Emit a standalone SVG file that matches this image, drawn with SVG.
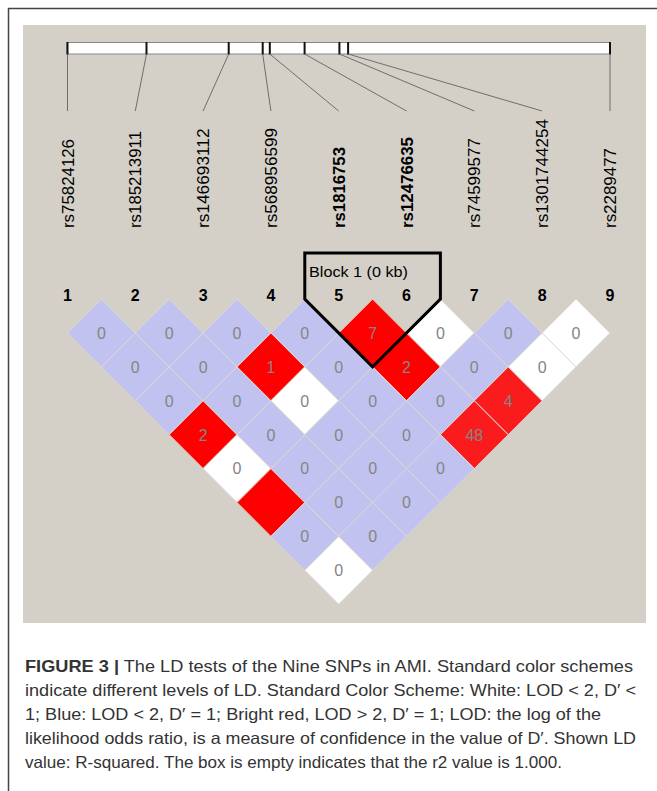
<svg xmlns="http://www.w3.org/2000/svg" width="657" height="791" viewBox="0 0 657 791">
<style>
.lbl{font-family:"Liberation Sans",Arial,sans-serif;font-size:16.5px;fill:#000}
.lblb{font-family:"Liberation Sans",Arial,sans-serif;font-size:16.5px;font-weight:bold;fill:#000}
.num{font-family:"Liberation Sans",Arial,sans-serif;font-size:16px;font-weight:bold;fill:#000;text-anchor:middle}
.val{font-family:"Liberation Sans",Arial,sans-serif;font-size:16px;fill:#858585;text-anchor:middle}
.blue{fill:#c2c2f0;stroke:#dcd9d2;stroke-width:1}
.red{fill:#ff0000;stroke:#dcd9d2;stroke-width:1}
.red2{fill:#fa1c1c;stroke:#dcd9d2;stroke-width:1}
.white{fill:#ffffff;stroke:#dcd9d2;stroke-width:1}
.lead{stroke:#6e6e6e;stroke-width:1;fill:none}
.tick{stroke:#111;stroke-width:2}
.cap{font-family:"Liberation Sans",Arial,sans-serif;font-size:16.5px;fill:#333}
</style>
<defs>
<path id="dm" d="M0,-33.9 L33.9,0 L0,33.9 L-33.9,0 Z"/>
</defs>
<rect x="0" y="0" width="657" height="791" fill="#ffffff"/>
<path d="M8.5,800 V8.5 H700" fill="none" stroke="#444" stroke-width="1.5"/>
<rect x="23" y="25" width="623" height="598" fill="#d4d0c8"/>

<g id="physical-map">
<rect x="67" y="42.5" width="543" height="11.5" fill="#ffffff" stroke="#888" stroke-width="1"/>
<line class="tick" x1="67.5" y1="42" x2="67.5" y2="54.5"/>
<line class="tick" x1="146.5" y1="42" x2="146.5" y2="54.5"/>
<line class="tick" x1="228.7" y1="42" x2="228.7" y2="54.5"/>
<line class="tick" x1="262.7" y1="42" x2="262.7" y2="54.5"/>
<line class="tick" x1="269.8" y1="42" x2="269.8" y2="54.5"/>
<line class="tick" x1="304.6" y1="42" x2="304.6" y2="54.5"/>
<line class="tick" x1="339.4" y1="42" x2="339.4" y2="54.5"/>
<line class="tick" x1="348.1" y1="42" x2="348.1" y2="54.5"/>
<line class="tick" x1="610" y1="42" x2="610" y2="54.5"/>
</g>

<g id="connectors">
<line class="lead" x1="67.5" y1="54" x2="67.5" y2="111"/>
<line class="lead" x1="146.5" y1="54" x2="135.3" y2="111"/>
<line class="lead" x1="228.7" y1="54" x2="203.1" y2="111"/>
<line class="lead" x1="262.7" y1="54" x2="270.9" y2="111"/>
<line class="lead" x1="269.8" y1="54" x2="338.7" y2="111"/>
<line class="lead" x1="304.6" y1="54" x2="406.5" y2="111"/>
<line class="lead" x1="339.4" y1="54" x2="474.3" y2="111"/>
<line class="lead" x1="348.1" y1="54" x2="542.1" y2="111"/>
<line class="lead" x1="610" y1="54" x2="610" y2="111"/>
</g>

<g id="snp-labels">
<text class="lbl" transform="translate(73.5,228) rotate(-90)" textLength="89" lengthAdjust="spacingAndGlyphs">rs75824126</text>
<text class="lbl" transform="translate(141.3,228) rotate(-90)" textLength="97" lengthAdjust="spacingAndGlyphs">rs185213911</text>
<text class="lbl" transform="translate(209.1,228) rotate(-90)" textLength="99.5" lengthAdjust="spacingAndGlyphs">rs146693112</text>
<text class="lbl" transform="translate(276.9,228) rotate(-90)" textLength="100" lengthAdjust="spacingAndGlyphs">rs568956599</text>
<text class="lblb" transform="translate(344.7,228) rotate(-90)" textLength="81" lengthAdjust="spacingAndGlyphs">rs1816753</text>
<text class="lblb" transform="translate(412.5,228) rotate(-90)" textLength="91" lengthAdjust="spacingAndGlyphs">rs12476635</text>
<text class="lbl" transform="translate(480.3,228) rotate(-90)" textLength="90" lengthAdjust="spacingAndGlyphs">rs74599577</text>
<text class="lbl" transform="translate(548.1,228) rotate(-90)" textLength="109" lengthAdjust="spacingAndGlyphs">rs1301744254</text>
<text class="lbl" transform="translate(615.9,228) rotate(-90)" textLength="80" lengthAdjust="spacingAndGlyphs">rs2289477</text>
</g>

<g id="snp-numbers">
<text class="num" x="67.5" y="300.5">1</text>
<text class="num" x="135.3" y="300.5">2</text>
<text class="num" x="203.1" y="300.5">3</text>
<text class="num" x="270.9" y="300.5">4</text>
<text class="num" x="338.7" y="300.5">5</text>
<text class="num" x="406.5" y="300.5">6</text>
<text class="num" x="474.3" y="300.5">7</text>
<text class="num" x="542.1" y="300.5">8</text>
<text class="num" x="609.9" y="300.5">9</text>
</g>

<g id="ld-cells">
<use href="#dm" class="blue" x="101.4" y="333"/><text class="val" x="101.4" y="338.8">0</text>
<use href="#dm" class="blue" x="169.2" y="333"/><text class="val" x="169.2" y="338.8">0</text>
<use href="#dm" class="blue" x="237" y="333"/><text class="val" x="237" y="338.8">0</text>
<use href="#dm" class="blue" x="304.8" y="333"/><text class="val" x="304.8" y="338.8">0</text>
<use href="#dm" class="red" x="372.6" y="333"/><text class="val" x="372.6" y="338.8">7</text>
<use href="#dm" class="white" x="440.4" y="333"/><text class="val" x="440.4" y="338.8">0</text>
<use href="#dm" class="blue" x="508.2" y="333"/><text class="val" x="508.2" y="338.8">0</text>
<use href="#dm" class="white" x="576" y="333"/><text class="val" x="576" y="338.8">0</text>

<use href="#dm" class="blue" x="135.3" y="366.9"/><text class="val" x="135.3" y="372.7">0</text>
<use href="#dm" class="blue" x="203.1" y="366.9"/><text class="val" x="203.1" y="372.7">0</text>
<use href="#dm" class="red" x="270.9" y="366.9"/><text class="val" x="270.9" y="372.7">1</text>
<use href="#dm" class="blue" x="338.7" y="366.9"/><text class="val" x="338.7" y="372.7">0</text>
<use href="#dm" class="red" x="406.5" y="366.9"/><text class="val" x="406.5" y="372.7">2</text>
<use href="#dm" class="blue" x="474.3" y="366.9"/><text class="val" x="474.3" y="372.7">0</text>
<use href="#dm" class="white" x="542.1" y="366.9"/><text class="val" x="542.1" y="372.7">0</text>

<use href="#dm" class="blue" x="169.2" y="400.8"/><text class="val" x="169.2" y="406.6">0</text>
<use href="#dm" class="blue" x="237" y="400.8"/><text class="val" x="237" y="406.6">0</text>
<use href="#dm" class="white" x="304.8" y="400.8"/><text class="val" x="304.8" y="406.6">0</text>
<use href="#dm" class="blue" x="372.6" y="400.8"/><text class="val" x="372.6" y="406.6">0</text>
<use href="#dm" class="blue" x="440.4" y="400.8"/><text class="val" x="440.4" y="406.6">0</text>
<use href="#dm" class="red2" x="508.2" y="400.8"/><text class="val" x="508.2" y="406.6">4</text>

<use href="#dm" class="red" x="203.1" y="434.7"/><text class="val" x="203.1" y="440.5">2</text>
<use href="#dm" class="blue" x="270.9" y="434.7"/><text class="val" x="270.9" y="440.5">0</text>
<use href="#dm" class="blue" x="338.7" y="434.7"/><text class="val" x="338.7" y="440.5">0</text>
<use href="#dm" class="blue" x="406.5" y="434.7"/><text class="val" x="406.5" y="440.5">0</text>
<use href="#dm" class="red2" x="474.3" y="434.7"/><text class="val" x="474.3" y="440.5">48</text>

<use href="#dm" class="white" x="237" y="468.6"/><text class="val" x="237" y="474.4">0</text>
<use href="#dm" class="blue" x="304.8" y="468.6"/><text class="val" x="304.8" y="474.4">0</text>
<use href="#dm" class="blue" x="372.6" y="468.6"/><text class="val" x="372.6" y="474.4">0</text>
<use href="#dm" class="blue" x="440.4" y="468.6"/><text class="val" x="440.4" y="474.4">0</text>

<use href="#dm" class="red" x="270.9" y="502.5"/>
<use href="#dm" class="blue" x="338.7" y="502.5"/><text class="val" x="338.7" y="508.3">0</text>
<use href="#dm" class="blue" x="406.5" y="502.5"/><text class="val" x="406.5" y="508.3">0</text>

<use href="#dm" class="blue" x="304.8" y="536.4"/><text class="val" x="304.8" y="542.2">0</text>
<use href="#dm" class="blue" x="372.6" y="536.4"/><text class="val" x="372.6" y="542.2">0</text>

<use href="#dm" class="white" x="338.7" y="570.3"/><text class="val" x="338.7" y="576.1">0</text>
</g>

<g id="block-1">
<path d="M304.8,299.1 V253 H440.4 V299.1 L372.6,366.9 Z" fill="none" stroke="#000" stroke-width="3" stroke-linejoin="miter"/>
<text x="309" y="276.5" font-family="Liberation Sans, Arial, sans-serif" font-size="15.5" fill="#000" textLength="99" lengthAdjust="spacingAndGlyphs">Block 1 (0 kb)</text>
</g>

<g id="caption">
<text class="cap" x="25" y="672" textLength="608" lengthAdjust="spacingAndGlyphs"><tspan font-weight="bold">FIGURE 3 |</tspan> The LD tests of the Nine SNPs in AMI. Standard color schemes</text>
<text class="cap" x="25" y="696" textLength="611" lengthAdjust="spacingAndGlyphs">indicate different levels of LD. Standard Color Scheme: White: LOD &lt; 2, D′ &lt;</text>
<text class="cap" x="25" y="720" textLength="576" lengthAdjust="spacingAndGlyphs">1; Blue: LOD &lt; 2, D′ = 1; Bright red, LOD &gt; 2, D′ = 1; LOD: the log of the</text>
<text class="cap" x="25" y="744" textLength="611" lengthAdjust="spacingAndGlyphs">likelihood odds ratio, is a measure of confidence in the value of D′. Shown LD</text>
<text class="cap" x="25" y="768" textLength="537" lengthAdjust="spacingAndGlyphs">value: R-squared. The box is empty indicates that the r2 value is 1.000.</text>
</g>
</svg>
